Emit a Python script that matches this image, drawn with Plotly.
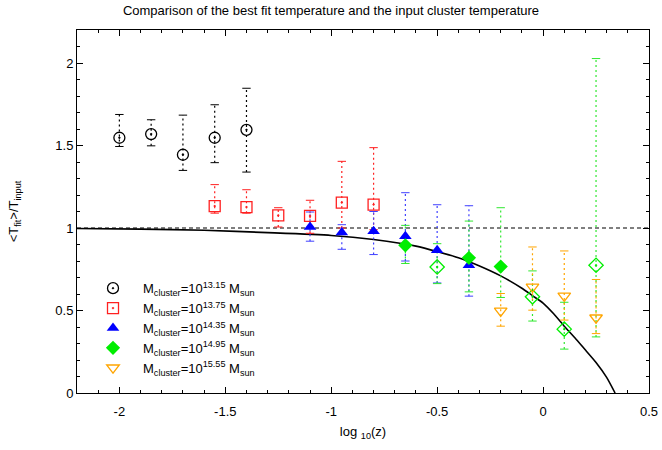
import plotly.graph_objects as go

# ---------------- data ----------------
x_tick_vals = [-2, -1.5, -1, -0.5, 0, 0.5]
x_tick_text = ["-2", "-1.5", "-1", "-0.5", "0", "0.5"]
y_tick_vals = [0, 0.5, 1, 1.5, 2]
y_tick_text = ["0", "0.5", "1", "1.5", "2"]

# M_cluster = 10^13.15
m1315_x = [-2.0, -1.85, -1.7, -1.55, -1.4]
m1315_y = [1.547, 1.569, 1.444, 1.547, 1.595]
m1315_hi = [1.688, 1.656, 1.684, 1.747, 1.847]
m1315_lo = [1.494, 1.498, 1.349, 1.396, 1.339]

# M_cluster = 10^13.75
m1375_x = [-1.55, -1.4, -1.25, -1.1, -0.95, -0.8]
m1375_y = [1.133, 1.127, 1.077, 1.073, 1.154, 1.142]
m1375_hi = [1.263, 1.232, 1.123, 1.168, 1.404, 1.487]
m1375_lo = [1.09, 1.09, 1.006, 0.968, 1.0, 0.99]

# M_cluster = 10^14.35
m1435_x = [-1.1, -0.95, -0.8, -0.65, -0.5, -0.35]
m1435_y = [1.006, 0.972, 0.98, 0.95, 0.865, 0.774]
m1435_hi = [1.097, 1.02, 1.1, 1.214, 1.141, 1.135]
m1435_lo = [0.92, 0.871, 0.839, 0.80, 0.667, 0.587]

# M_cluster = 10^14.95 (some points drawn open)
m1495_x = [-0.65, -0.5, -0.35, -0.2, -0.05, 0.1, 0.25]
m1495_y = [0.895, 0.764, 0.819, 0.766, 0.583, 0.387, 0.774]
m1495_hi = [1.016, 0.905, 1.042, 1.123, 0.74, 0.55, 2.027]
m1495_lo = [0.785, 0.663, 0.613, 0.579, 0.436, 0.266, 0.34]
m1495_open = [False, True, False, False, True, True, True]

# M_cluster = 10^15.55
m1555_x = [-0.2, -0.05, 0.1, 0.25]
m1555_y = [0.498, 0.643, 0.589, 0.456]
m1555_hi = [0.603, 0.885, 0.861, 0.688]
m1555_lo = [0.405, 0.502, 0.442, 0.36]

# model curve
curve_x = [-2.2, -1.9, -1.6, -1.3, -1.0, -0.8, -0.6, -0.4, -0.3, -0.2, -0.1, -0.05,
           0.0, 0.05, 0.1, 0.15, 0.2, 0.25, 0.3, 0.34]
curve_y = [0.997, 0.993, 0.986, 0.972, 0.955, 0.93, 0.89, 0.82, 0.77, 0.71, 0.635, 0.59,
           0.545, 0.48, 0.405, 0.335, 0.26, 0.185, 0.095, 0.0]

ref_x = [-2.2, 0.5]
ref_y = [1.0, 1.0]

labels = [
    "M<sub>cluster</sub>=10<sup>13.15</sup> M<sub>sun</sub>",
    "M<sub>cluster</sub>=10<sup>13.75</sup> M<sub>sun</sub>",
    "M<sub>cluster</sub>=10<sup>14.35</sup> M<sub>sun</sub>",
    "M<sub>cluster</sub>=10<sup>14.95</sup> M<sub>sun</sub>",
    "M<sub>cluster</sub>=10<sup>15.55</sup> M<sub>sun</sub>",
]

BLACK = "#000000"
RED = "#ff2020"
BLUE = "#0000ff"
GREEN = "#00ee00"
ORANGE = "#ffa500"

fig = go.Figure()


def add_errorbars(xs, hi, lo, color):
    lx, ly = [], []
    for x, h, l in zip(xs, hi, lo):
        lx += [x, x, None]
        ly += [l, h, None]
    fig.add_trace(go.Scatter(x=lx, y=ly, mode="lines", showlegend=False, hoverinfo="skip",
                             line=dict(color=color, width=1.2, dash="2px,3px")))
    fig.add_trace(go.Scatter(x=list(xs) + list(xs), y=list(hi) + list(lo), mode="markers",
                             showlegend=False, hoverinfo="skip",
                             marker=dict(symbol="line-ew", size=6, color=color,
                                         line=dict(color=color, width=1))))


# reference lines
fig.add_trace(go.Scatter(x=ref_x, y=ref_y, mode="lines", showlegend=False, hoverinfo="skip",
                         line=dict(color=BLACK, width=1.2, dash="4px,3px")))
fig.add_trace(go.Scatter(x=curve_x, y=curve_y, mode="lines", showlegend=False, hoverinfo="skip",
                         line=dict(color=BLACK, width=1.6, shape="spline", smoothing=0.6)))

add_errorbars(m1315_x, m1315_hi, m1315_lo, BLACK)
add_errorbars(m1375_x, m1375_hi, m1375_lo, RED)
add_errorbars(m1435_x, m1435_hi, m1435_lo, "#4040ff")
add_errorbars(m1495_x, m1495_hi, m1495_lo, "#30e830")
add_errorbars(m1555_x, m1555_hi, m1555_lo, ORANGE)

fig.add_trace(go.Scatter(x=m1315_x, y=m1315_y, mode="markers", name=labels[0],
                         marker=dict(symbol="circle-open-dot", size=11, color=BLACK,
                                     line=dict(width=1.3, color=BLACK))))
fig.add_trace(go.Scatter(x=m1375_x, y=m1375_y, mode="markers", name=labels[1],
                         marker=dict(symbol="square-open-dot", size=11, color=RED,
                                     line=dict(width=1.3, color=RED))))
fig.add_trace(go.Scatter(x=m1435_x, y=m1435_y, mode="markers", name=labels[2],
                         marker=dict(symbol="triangle-up", size=11, color=BLUE)))

g_fx = [x for x, o in zip(m1495_x, m1495_open) if not o]
g_fy = [y for y, o in zip(m1495_y, m1495_open) if not o]
g_ox = [x for x, o in zip(m1495_x, m1495_open) if o]
g_oy = [y for y, o in zip(m1495_y, m1495_open) if o]
fig.add_trace(go.Scatter(x=g_fx, y=g_fy, mode="markers", name=labels[3],
                         marker=dict(symbol="diamond", size=11, color=GREEN)))
fig.add_trace(go.Scatter(x=g_ox, y=g_oy, mode="markers", showlegend=False,
                         marker=dict(symbol="diamond-open-dot", size=11, color=GREEN,
                                     line=dict(width=1.3, color=GREEN))))
fig.add_trace(go.Scatter(x=m1555_x, y=m1555_y, mode="markers", name=labels[4],
                         marker=dict(symbol="triangle-down-open", size=11, color=ORANGE,
                                     line=dict(width=1.3, color=ORANGE))))

axis_common = dict(
    showline=True, linecolor=BLACK, linewidth=1, mirror="ticks",
    ticks="inside", ticklen=6, tickcolor=BLACK, showgrid=False, zeroline=False,
    tickfont=dict(size=13, color=BLACK), automargin=False,
)

fig.update_layout(
    width=662, height=450,
    paper_bgcolor="white", plot_bgcolor="white",
    font=dict(family="Liberation Sans, Arial, sans-serif", color=BLACK, size=13),
    margin=dict(l=77, r=13, t=30, b=57),
    title=dict(text="Comparison of the best fit temperature and the input cluster temperature",
               x=331 / 662, xanchor="center", y=1 - 10 / 450, yanchor="middle",
               font=dict(size=13, color=BLACK)),
    xaxis=dict(range=[-2.2, 0.5], tickvals=x_tick_vals, ticktext=x_tick_text,
               minor=dict(ticks="inside", dtick=0.1, tick0=0, ticklen=3, tickcolor=BLACK),
               ticklabelstandoff=6,
               title=dict(text="log <sub>10</sub>(z)", standoff=9, font=dict(size=13)),
               **axis_common),
    yaxis=dict(range=[0, 2.2], tickvals=y_tick_vals, ticktext=y_tick_text,
               minor=dict(ticks="inside", dtick=0.1, tick0=0, ticklen=3, tickcolor=BLACK),
               title=dict(text="<T<sub>fit</sub>>/T<sub>input</sub>", standoff=33, font=dict(size=13)),
               **axis_common),
    legend=dict(x=0.0105, y=0.33, xanchor="left", yanchor="top", bgcolor="rgba(0,0,0,0)",
                font=dict(size=13, color=BLACK), tracegroupgap=0, itemwidth=50),
    showlegend=True,
)

fig.write_html("out.html", config={"displayModeBar": False},
               post_script="document.body.style.margin='0';")
